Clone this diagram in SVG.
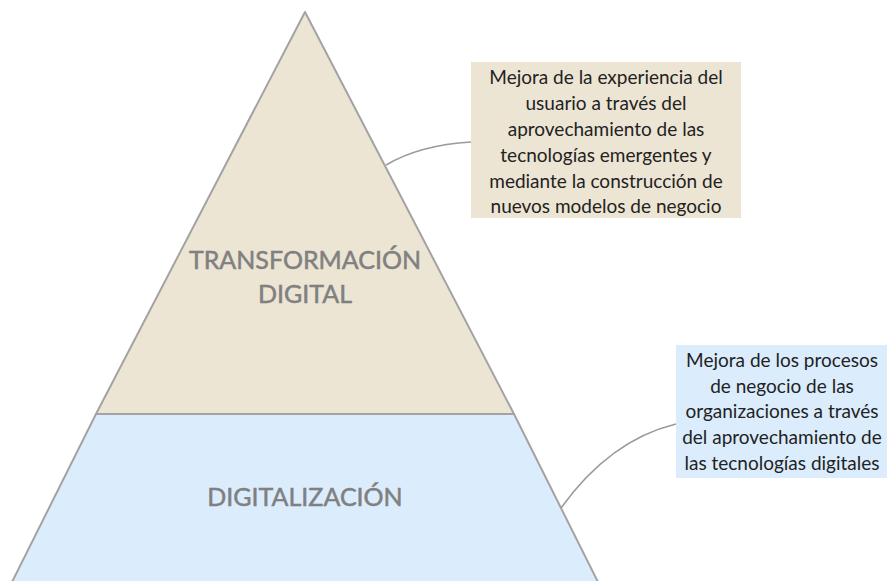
<svg xmlns="http://www.w3.org/2000/svg" width="887" height="581" viewBox="0 0 887 581">
<style>
.edge{stroke:#a3a3a3;stroke-width:2;stroke-linejoin:round}
.conn{fill:none;stroke:#9a9a9a;stroke-width:1.6}
.big{font-family:Lato,"Noto Sans",sans-serif;font-size:25px;fill:#808080;stroke:#808080;stroke-width:0.5;text-anchor:middle}
.note{font-family:Lato,"Noto Sans",sans-serif;font-size:19px;fill:#222;text-anchor:middle}
</style>
<rect width="887" height="581" fill="#fff"/>
<g id="digitalizacion">
<polygon points="96,414 514,414 602,590 8,590" style="fill:#dbedfd" class="edge"/>
<text class="big" x="305" y="506">DIGITALIZACIÓN</text>
</g>
<g id="transformacion">
<polygon points="305,12 514,414 96,414" style="fill:#ede5d4" class="edge"/>
<text class="big" x="305" y="269">TRANSFORMACIÓN</text>
<text class="big" x="305" y="303">DIGITAL</text>
</g>
<g id="connectors">
<path class="conn" d="M386,165 Q420,145 471,142"/>
<path class="conn" d="M561,508 Q610,440 676,424"/>
</g>
<g id="note-top">
<rect x="471" y="62" width="270" height="156" fill="#ede5d4"/>
<text class="note" x="606" y="84">Mejora de la experiencia del</text>
<text class="note" x="606" y="110">usuario a través del</text>
<text class="note" x="606" y="136">aprovechamiento de las</text>
<text class="note" x="606" y="162">tecnologías emergentes y</text>
<text class="note" x="606" y="188">mediante la construcción de</text>
<text class="note" x="606" y="213">nuevos modelos de negocio</text>
</g>
<g id="note-bottom">
<rect x="676" y="345" width="211" height="133" fill="#dbedfd"/>
<text class="note" x="782" y="367">Mejora de los procesos</text>
<text class="note" x="782" y="393">de negocio de las</text>
<text class="note" x="782" y="418">organizaciones a través</text>
<text class="note" x="782" y="444">del aprovechamiento de</text>
<text class="note" x="782" y="470">las tecnologías digitales</text>
</g>
</svg>
